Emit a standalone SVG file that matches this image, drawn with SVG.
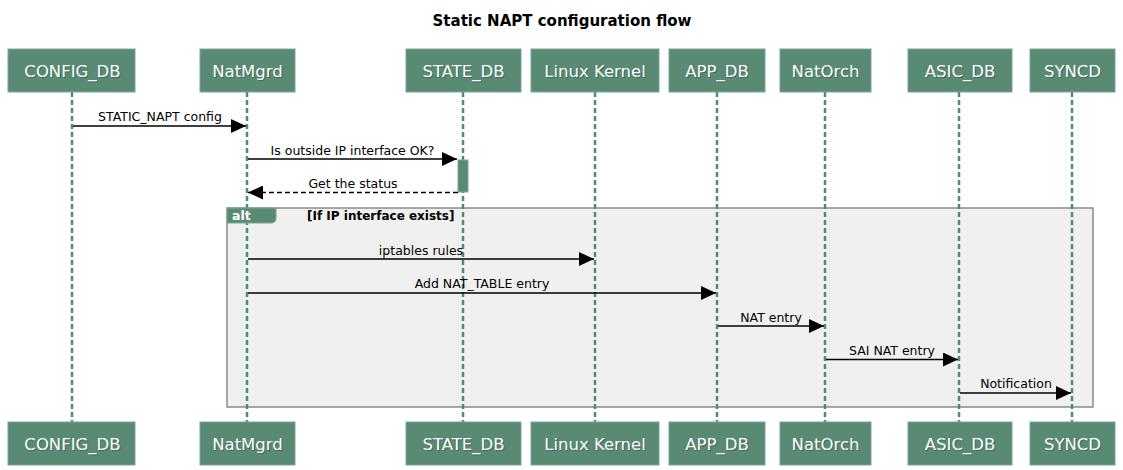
<svg xmlns="http://www.w3.org/2000/svg" width="1123" height="470" viewBox="0 0 1123 470">
<defs>
<style>
.title{font-family:"DejaVu Sans",Verdana,sans-serif;font-size:15px;font-weight:bold;fill:#000}
.box{fill:#598a73;stroke:#7aa894;stroke-width:1}
.btxt{font-family:"DejaVu Sans",Verdana,sans-serif;font-size:16.5px;fill:#fff;text-anchor:middle}
.bsh{font-family:"DejaVu Sans",Verdana,sans-serif;font-size:16.5px;fill:#2a4a3c;opacity:0.5;text-anchor:middle}
.life{stroke:#4f8a72;stroke-width:2.5;stroke-dasharray:5,3;fill:none}
.msg{stroke:#000;stroke-width:1.5;fill:none}
.ret{stroke:#000;stroke-width:1.5;fill:none;stroke-dasharray:5,3}
.mtxt{font-family:"DejaVu Sans",Verdana,sans-serif;font-size:12.5px;fill:#000;text-anchor:middle}
.frame{fill:#f0f0f0;stroke:#8a8a8a;stroke-width:1.5}
.ftxt{font-family:"DejaVu Sans",Verdana,sans-serif;font-size:12px;font-weight:bold;fill:#000}
.tab{fill:#598a73;stroke:#7aa894;stroke-width:1}
.tabtxt{font-family:"DejaVu Sans",Verdana,sans-serif;font-size:12.5px;font-weight:bold;fill:#fff}
</style>
<marker id="ah" markerWidth="16" markerHeight="14" refX="15" refY="7" orient="auto" markerUnits="userSpaceOnUse">
<path d="M0,0 L15,7 L0,14 Z" fill="#000"/>
</marker>
</defs>
<rect width="1123" height="470" fill="#fff"/>
<text class="title" x="562" y="26" text-anchor="middle">Static NAPT configuration flow</text>

<g id="alt-frame">
<rect class="frame" x="227" y="208" width="866" height="199"/>
<text class="ftxt" x="307" y="220">[If IP interface exists]</text>
</g>

<g id="lifelines">
<line class="life" x1="72" y1="92" x2="72" y2="422"/>
<line class="life" x1="247" y1="92" x2="247" y2="422"/>
<line class="life" x1="463" y1="92" x2="463" y2="422"/>
<line class="life" x1="595" y1="92" x2="595" y2="422"/>
<line class="life" x1="717" y1="92" x2="717" y2="422"/>
<line class="life" x1="825" y1="92" x2="825" y2="422"/>
<line class="life" x1="959" y1="92" x2="959" y2="422"/>
<line class="life" x1="1072" y1="92" x2="1072" y2="422"/>
</g>

<g id="alt-tab">
<path class="tab" d="M227,208 H276 V218 Q276,223 271,223 H227 Z"/>
<text class="tabtxt" x="232" y="220">alt</text>
</g>

<g id="activation">
<rect x="458" y="160" width="10" height="32" fill="#598a73" stroke="#7aa894" stroke-width="1"/>
</g>

<g id="CONFIG_DB">
<rect class="box" x="8" y="49" width="127" height="43"/>
<text class="bsh" x="73.5" y="78">CONFIG_DB</text>
<text class="btxt" x="72.5" y="77">CONFIG_DB</text>
<rect class="box" x="8" y="422" width="127" height="43"/>
<text class="bsh" x="73.5" y="451">CONFIG_DB</text>
<text class="btxt" x="72.5" y="450">CONFIG_DB</text>
</g>
<g id="NatMgrd">
<rect class="box" x="200" y="49" width="95" height="43"/>
<text class="bsh" x="248.5" y="78">NatMgrd</text>
<text class="btxt" x="247.5" y="77">NatMgrd</text>
<rect class="box" x="200" y="422" width="95" height="43"/>
<text class="bsh" x="248.5" y="451">NatMgrd</text>
<text class="btxt" x="247.5" y="450">NatMgrd</text>
</g>
<g id="STATE_DB">
<rect class="box" x="406" y="49" width="115" height="43"/>
<text class="bsh" x="464.5" y="78">STATE_DB</text>
<text class="btxt" x="463.5" y="77">STATE_DB</text>
<rect class="box" x="406" y="422" width="115" height="43"/>
<text class="bsh" x="464.5" y="451">STATE_DB</text>
<text class="btxt" x="463.5" y="450">STATE_DB</text>
</g>
<g id="LinuxKernel">
<rect class="box" x="531" y="49" width="128" height="43"/>
<text class="bsh" x="596" y="78">Linux Kernel</text>
<text class="btxt" x="595" y="77">Linux Kernel</text>
<rect class="box" x="531" y="422" width="128" height="43"/>
<text class="bsh" x="596" y="451">Linux Kernel</text>
<text class="btxt" x="595" y="450">Linux Kernel</text>
</g>
<g id="APP_DB">
<rect class="box" x="669" y="49" width="96" height="43"/>
<text class="bsh" x="718" y="78">APP_DB</text>
<text class="btxt" x="717" y="77">APP_DB</text>
<rect class="box" x="669" y="422" width="96" height="43"/>
<text class="bsh" x="718" y="451">APP_DB</text>
<text class="btxt" x="717" y="450">APP_DB</text>
</g>
<g id="NatOrch">
<rect class="box" x="780" y="49" width="91" height="43"/>
<text class="bsh" x="826.5" y="78">NatOrch</text>
<text class="btxt" x="825.5" y="77">NatOrch</text>
<rect class="box" x="780" y="422" width="91" height="43"/>
<text class="bsh" x="826.5" y="451">NatOrch</text>
<text class="btxt" x="825.5" y="450">NatOrch</text>
</g>
<g id="ASIC_DB">
<rect class="box" x="908" y="49" width="104" height="43"/>
<text class="bsh" x="961" y="78">ASIC_DB</text>
<text class="btxt" x="960" y="77">ASIC_DB</text>
<rect class="box" x="908" y="422" width="104" height="43"/>
<text class="bsh" x="961" y="451">ASIC_DB</text>
<text class="btxt" x="960" y="450">ASIC_DB</text>
</g>
<g id="SYNCD">
<rect class="box" x="1030" y="49" width="85" height="43"/>
<text class="bsh" x="1073.5" y="78">SYNCD</text>
<text class="btxt" x="1072.5" y="77">SYNCD</text>
<rect class="box" x="1030" y="422" width="85" height="43"/>
<text class="bsh" x="1073.5" y="451">SYNCD</text>
<text class="btxt" x="1072.5" y="450">SYNCD</text>
</g>

<g id="connectors">
<line class="msg" x1="73" y1="126" x2="246" y2="126" marker-end="url(#ah)"/>
<text class="mtxt" x="160" y="121">STATIC_NAPT config</text>
<line class="msg" x1="248" y1="159" x2="457" y2="159" marker-end="url(#ah)"/>
<text class="mtxt" x="352.5" y="155">Is outside IP interface OK?</text>
<line class="ret" x1="458" y1="192.5" x2="248" y2="192.5" marker-end="url(#ah)"/>
<text class="mtxt" x="353" y="188">Get the status</text>
<line class="msg" x1="248" y1="259" x2="594" y2="259" marker-end="url(#ah)"/>
<text class="mtxt" x="421" y="255">iptables rules</text>
<line class="msg" x1="248" y1="293" x2="716" y2="293" marker-end="url(#ah)"/>
<text class="mtxt" x="482" y="288">Add NAT_TABLE entry</text>
<line class="msg" x1="718" y1="326" x2="824" y2="326" marker-end="url(#ah)"/>
<text class="mtxt" x="771" y="321.5">NAT entry</text>
<line class="msg" x1="826" y1="359.5" x2="958" y2="359.5" marker-end="url(#ah)"/>
<text class="mtxt" x="892" y="355">SAI NAT entry</text>
<line class="msg" x1="960" y1="393" x2="1071" y2="393" marker-end="url(#ah)"/>
<text class="mtxt" x="1016" y="388">Notification</text>
</g>
</svg>
